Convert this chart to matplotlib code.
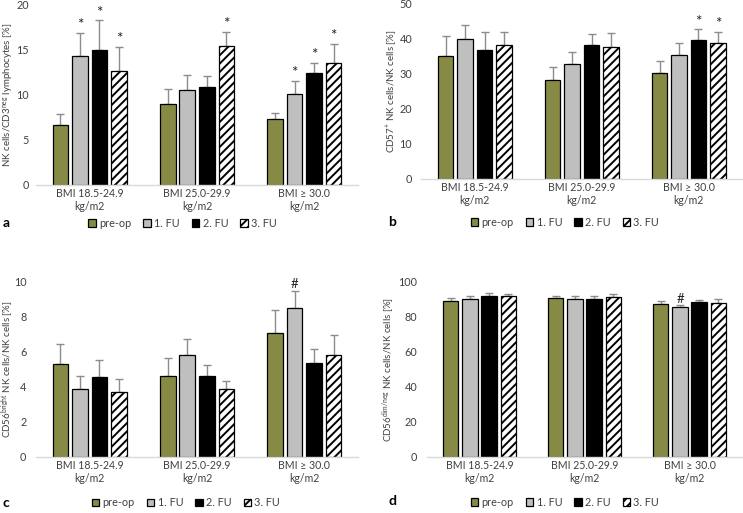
import numpy as np
import matplotlib
matplotlib.use("Agg")
from matplotlib import pyplot as plt

plt.rcParams['font.family'] = ['Lato', 'DejaVu Sans']
plt.rcParams['mathtext.default'] = 'regular'
plt.rcParams['hatch.linewidth'] = 1.4

# categories and series
groups = ["BMI 18.5-24.9\nkg/m2", "BMI 25.0-29.9\nkg/m2", "BMI \u2265 30.0\nkg/m2"]
series = ["pre-op", "1. FU", "2. FU", "3. FU"]

# panel a: NK cells / CD3neg lymphocytes
a_mean = [[6.6, 9.0, 7.3], [14.2, 10.5, 10.0], [14.9, 10.8, 12.4], [12.6, 15.4, 13.5]]
a_err = [[1.2, 1.6, 0.7], [2.6, 1.6, 1.5], [3.3, 1.2, 1.1], [2.7, 1.5, 2.1]]
a_mark = [["", "", ""], ["*", "", "*"], ["*", "", "*"], ["*", "*", "*"]]

# panel b: CD57+ NK cells / NK cells
b_mean = [[35.0, 28.3, 30.1], [39.8, 32.7, 35.2], [36.6, 38.0, 39.5], [38.0, 37.6, 38.8]]
b_err = [[5.7, 3.5, 3.6], [4.1, 3.4, 3.5], [5.2, 3.2, 3.1], [3.8, 3.9, 3.0]]
b_mark = [["", "", ""], ["", "", ""], ["", "", "*"], ["", "", "*"]]

# panel c: CD56bright NK cells / NK cells
c_mean = [[5.33, 4.65, 7.1], [3.9, 5.83, 8.5], [4.55, 4.65, 5.39], [3.71, 3.9, 5.85]]
c_err = [[1.11, 0.99, 1.28], [0.7, 0.89, 0.99], [1.01, 0.61, 0.76], [0.77, 0.44, 1.1]]
c_mark = [["", "", ""], ["", "", "#"], ["", "", ""], ["", "", ""]]

# panel d: CD56dim/neg NK cells / NK cells
d_mean = [[89.1, 91.0, 87.2], [90.5, 90.5, 85.7], [92.0, 90.3, 88.4], [92.0, 91.4, 88.0]]
d_err = [[1.6, 1.2, 2.1], [1.3, 1.3, 1.0], [1.5, 1.9, 1.5], [1.3, 1.6, 2.3]]
d_mark = [["", "", ""], ["", "", "#"], ["", "", ""], ["", "", ""]]

colors = ["#878A45", "#BFBFBF", "#000000", "#FFFFFF"]
hatches = [None, None, None, "////"]
txt_col = "#404040"


def draw_panel(ax, mean, err, mark, ymax, ystep, ylabel, xlab, ypad):
    x = np.arange(len(groups))
    width = 0.145
    step = 0.182
    for i, name in enumerate(series):
        pos = x + (i - 1.5) * step
        ax.bar(pos, mean[i], width, color=colors[i], edgecolor="black",
               linewidth=0.9, hatch=hatches[i], label=name, zorder=2)
        ax.errorbar(pos, mean[i], yerr=[np.zeros(3), err[i]], fmt="none",
                    ecolor="#8C8C8C", elinewidth=1.0, capsize=3, capthick=1.0, zorder=1)
        for j in range(3):
            if mark[i][j]:
                sz = 11 if mark[i][j] == "*" else 9.5
                ax.annotate(mark[i][j], (pos[j], mean[i][j] + err[i][j]),
                            xytext=(0, 0.5), textcoords="offset points",
                            ha="center", va="bottom", fontsize=sz, color="#222222")
    ax.set_xlim(-0.5, 2.5)
    ax.set_ylim(0, ymax)
    ax.set_yticks(np.arange(0, ymax + 0.1, ystep))
    ax.set_xticks(x)
    ax.set_xticklabels(groups, linespacing=1.2)
    ax.tick_params(axis="y", length=0, pad=ypad, labelsize=7.8, labelcolor=txt_col)
    ax.tick_params(axis="x", length=0, pad=2, labelsize=7.6, labelcolor=txt_col)
    for s in ["top", "right", "left"]:
        ax.spines[s].set_visible(False)
    ax.spines["bottom"].set_color("#D9D9D9")
    ax.spines["bottom"].set_linewidth(1.0)
    ax.set_ylabel(ylabel, fontsize=7.0, color=txt_col)
    ax.yaxis.set_label_coords(xlab, 0.5)


fig = plt.figure(figsize=(7.43, 5.13), dpi=100)

ax_a = fig.add_axes([0.0485, 0.6394, 0.4334, 0.3528])
ax_b = fig.add_axes([0.5670, 0.6511, 0.4320, 0.3425])
ax_c = fig.add_axes([0.0485, 0.1092, 0.4334, 0.3411])
ax_d = fig.add_axes([0.5747, 0.1092, 0.4240, 0.3411])

draw_panel(ax_a, a_mean, a_err, a_mark, 20, 5,
           "NK cells/CD3$^{neg}$ lymphocytes [%]", -0.064, 5)
draw_panel(ax_b, b_mean, b_err, b_mark, 50, 10,
           "CD57$^{+}$ NK cells/NK cells [%]", -0.069, 6.5)
draw_panel(ax_c, c_mean, c_err, c_mark, 10, 2,
           "CD56$^{bright}$ NK cells/NK cells [%]", -0.061, 7)
draw_panel(ax_d, d_mean, d_err, d_mark, 100, 20,
           "CD56$^{dim/neg}$ NK cells/NK cells [%]", -0.095, 7)

legend_pos = [(ax_a, 0.2456, 0.5653), (ax_b, 0.7604, 0.5672),
              (ax_c, 0.2503, 0.0195), (ax_d, 0.7604, 0.0214)]
for ax, lx, ly in legend_pos:
    h, l = ax.get_legend_handles_labels()
    fig.legend(h, l, loc="center", bbox_to_anchor=(lx, ly), ncol=4, frameon=False,
               fontsize=7.8, handlelength=0.7, handleheight=0.7, handletextpad=0.3,
               columnspacing=1.1, labelcolor=txt_col)

for letter, lx, ly in [("a", 0.004, 0.5653), ("b", 0.523, 0.5672),
                       ("c", 0.004, 0.0195), ("d", 0.523, 0.0234)]:
    fig.text(lx, ly, letter, fontsize=10, fontweight="bold", va="center", ha="left")

fig.savefig("out.png", dpi=100)
